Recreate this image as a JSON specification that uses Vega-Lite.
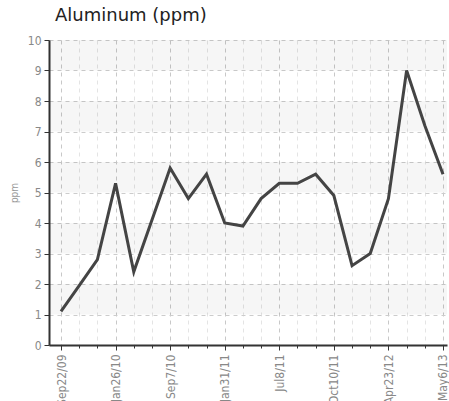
{
  "$schema": "https://vega.github.io/schema/vega-lite/v6.json",
  "width": 398,
  "height": 305,
  "autosize": "none",
  "padding": {"left": 49, "top": 40, "right": 2, "bottom": 56},
  "background": "white",
  "title": {"text": "Aluminum (ppm)", "anchor": "start", "frame": "group", "dx": 6, "offset": 9, "fontSize": 18, "fontWeight": "normal", "font": "DejaVu Sans", "color": "#222"},
  "config": {
    "view": {"stroke": null},
    "axisY": {
      "values": [0, 1, 2, 3, 4, 5, 6, 7, 8, 9, 10],
      "labelFontSize": 12,
      "labelFont": "'DejaVu Sans Condensed', 'Roboto', sans-serif",
      "labelColor": "#888",
      "labelPadding": 3,
      "tickSize": 5,
      "tickColor": "#333",
      "domainColor": "#333",
      "domainWidth": 2,
      "gridDash": [4, 4],
      "gridColor": "#cccccc",
      "titleFontSize": 10,
      "titleFont": "'DejaVu Sans Condensed', 'Roboto', sans-serif",
      "titleColor": "#999",
      "titleFontWeight": "normal",
      "titlePadding": 8
    }
  },
  "datasets": {
    "bands": [{"lo": 1, "hi": 2}, {"lo": 3, "hi": 4}, {"lo": 5, "hi": 6}, {"lo": 7, "hi": 8}, {"lo": 9, "hi": 10}],
    "series": [
      {"i": 0, "ppm": 1.1}, {"i": 1, "ppm": 1.95}, {"i": 2, "ppm": 2.8}, {"i": 3, "ppm": 5.3},
      {"i": 4, "ppm": 2.4}, {"i": 5, "ppm": 4.1}, {"i": 6, "ppm": 5.8}, {"i": 7, "ppm": 4.8},
      {"i": 8, "ppm": 5.6}, {"i": 9, "ppm": 4.0}, {"i": 10, "ppm": 3.9}, {"i": 11, "ppm": 4.8},
      {"i": 12, "ppm": 5.3}, {"i": 13, "ppm": 5.3}, {"i": 14, "ppm": 5.6}, {"i": 15, "ppm": 4.9},
      {"i": 16, "ppm": 2.6}, {"i": 17, "ppm": 3.0}, {"i": 18, "ppm": 4.8}, {"i": 19, "ppm": 9.0},
      {"i": 20, "ppm": 7.2}, {"i": 21, "ppm": 5.6}
    ]
  },
  "layer": [
    {
      "data": {"name": "bands"},
      "mark": {"type": "rect", "color": "#000", "opacity": 0.035},
      "encoding": {
        "y": {"field": "lo", "type": "quantitative", "scale": {"domain": [0, 10], "nice": false}, "title": "ppm"},
        "y2": {"field": "hi"}
      }
    },
    {
      "data": {"name": "series"},
      "mark": {"type": "line", "color": "#444", "strokeWidth": 3},
      "encoding": {
        "x": {
          "field": "i", "type": "quantitative",
          "scale": {"domain": [-0.66, 21.22], "nice": false, "zero": false},
          "axis": {
            "title": null,
            "values": [0, 1, 2, 3, 4, 5, 6, 7, 8, 9, 10, 11, 12, 13, 14, 15, 16, 17, 18, 19, 20, 21],
            "labelExpr": "datum.value % 3 == 0 ? ['Sep22/09','Jan26/10','Sep7/10','Jan31/11','Jul8/11','Oct10/11','Apr23/12','May6/13'][datum.value/3] : ''",
            "labelAngle": -90,
            "labelFontSize": 12,
            "labelFont": "'DejaVu Sans Condensed', 'Roboto', sans-serif",
            "labelColor": "#888",
            "labelPadding": 4,
            "labelFlush": false,
            "labelOverlap": false,
            "labelBound": false,
            "tickSize": {"condition": {"test": "datum.value % 3 == 0", "value": 5}, "value": 3},
            "tickColor": "#333",
            "domainColor": "#333",
            "domainWidth": 2,
            "gridDash": [4, 4],
            "gridColor": {"condition": {"test": "datum.value % 3 == 0", "value": "#c8c8c8"}, "value": "#e4e4e4"}
          }
        },
        "y": {
          "field": "ppm", "type": "quantitative",
          "scale": {"domain": [0, 10], "nice": false},
          "title": "ppm"
        }
      }
    }
  ]
}
